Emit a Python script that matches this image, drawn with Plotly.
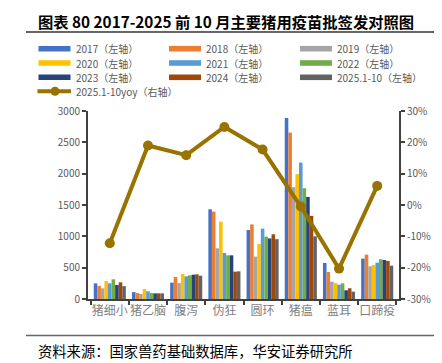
import plotly.graph_objects as go

categories = ["猪细小", "猪乙脑", "腹泻", "伪狂", "圆环", "猪瘟", "蓝耳", "口蹄疫"]
series_names = ["2017（左轴）", "2018（左轴）", "2019（左轴）", "2020（左轴）", "2021（左轴）",
                "2022（左轴）", "2023（左轴）", "2024（左轴）", "2025.1-10（左轴）"]
v2017 = [250, 110, 261, 1431, 1100, 2890, 575, 644]
v2018 = [207, 95, 351, 1394, 1190, 2656, 431, 708]
v2019 = [170, 80, 255, 809, 676, 1784, 277, 522]
v2020 = [287, 160, 399, 1234, 876, 1992, 256, 543]
v2021 = [250, 122, 362, 734, 1123, 2177, 229, 580]
v2022 = [314, 95, 378, 697, 995, 1768, 250, 634]
v2023 = [223, 90, 388, 697, 966, 1629, 139, 623]
v2024 = [266, 90, 394, 436, 1033, 1326, 171, 607]
v2025 = [205, 90, 372, 441, 955, 1000, 117, 532]
yoy_name = "2025.1-10yoy（右轴）"
yoy = [-12.2, 19.0, 15.9, 24.9, 17.7, -0.5, -20.3, 6.1]
left_ticks = [0, 500, 1000, 1500, 2000, 2500, 3000]
right_ticks = [-30, -20, -10, 0, 10, 20, 30]
right_tick_labels = ["-30%", "-20%", "-10%", "0%", "10%", "20%", "30%"]

series_values = [v2017, v2018, v2019, v2020, v2021, v2022, v2023, v2024, v2025]
colors = ["#4472C4", "#ED7D31", "#A5A5A5", "#FFC000", "#5B9BD5",
          "#70AD47", "#264478", "#9E480E", "#636363"]
line_color = "#997300"

W, H = 442, 363
L, R, T, B = 80, 391, 103, 291

fig = go.Figure()
for name, vals, c in zip(series_names, series_values, colors):
    fig.add_trace(go.Bar(x=categories, y=vals, name=name, marker_color=c,
                         marker_line_width=0, showlegend=False))
fig.add_trace(go.Scatter(x=categories, y=yoy, name=yoy_name, yaxis="y2", mode="lines+markers",
                         line=dict(color=line_color, width=4),
                         marker=dict(color=line_color, size=10), showlegend=False))

def px(x):
    return (x - L) / (R - L)

def py(y):
    return (B - y) / (B - T)

shapes = []
annotations = []
# title + rules
annotations.append(dict(text="<b>图表 80 2017-2025 前 10 月主要猪用疫苗批签发对照图</b>",
                        x=px(28), y=py(13), xref="paper", yref="paper", xanchor="left",
                        yanchor="middle", showarrow=False,
                        font=dict(size=15.3, color="#000000", family="Noto Sans CJK SC")))
shapes.append(dict(type="line", xref="paper", yref="paper", x0=px(18), x1=px(442),
                   y0=py(24), y1=py(24), line=dict(color="#333333", width=1.5)))
shapes.append(dict(type="line", xref="paper", yref="paper", x0=px(18), x1=px(442),
                   y0=py(327.5), y1=py(327.5), line=dict(color="#666666", width=1.5)))
annotations.append(dict(text="资料来源：国家兽药基础数据库，华安证券研究所",
                        x=px(28), y=py(342), xref="paper", yref="paper", xanchor="left",
                        yanchor="middle", showarrow=False,
                        font=dict(size=14.3, color="#000000", family="Noto Sans CJK SC")))
# custom legend
col_x = [30.5, 161, 292]
row_y = [40.7, 55, 69.3, 83.3]
for i, (name, c) in enumerate(zip(series_names, colors)):
    r, k = divmod(i, 3)
    x0 = col_x[k]
    yy = row_y[r]
    shapes.append(dict(type="rect", xref="paper", yref="paper", x0=px(x0), x1=px(x0 + 32),
                       y0=py(yy + 2.8), y1=py(yy - 2.8), fillcolor=c, line=dict(width=0)))
    annotations.append(dict(text=name, x=px(x0 + 35), y=py(yy), xref="paper", yref="paper",
                            xanchor="left", yanchor="middle", showarrow=False,
                            font=dict(size=10, color="#595959", family="Noto Sans CJK SC")))
yy = row_y[3]
shapes.append(dict(type="line", xref="paper", yref="paper", x0=px(29.5), x1=px(63),
                   y0=py(yy), y1=py(yy), line=dict(color=line_color, width=4)))
shapes.append(dict(type="circle", xref="paper", yref="paper", x0=px(42.5), x1=px(51.5),
                   y0=py(yy + 4.5), y1=py(yy - 4.5), fillcolor=line_color, line=dict(width=0)))
annotations.append(dict(text=yoy_name, x=px(65.5), y=py(yy), xref="paper", yref="paper",
                        xanchor="left", yanchor="middle", showarrow=False,
                        font=dict(size=10, color="#595959", family="Noto Sans CJK SC")))

axis_font = dict(size=10, color="#595959", family="Noto Sans CJK SC")
fig.update_layout(
    width=W, height=H,
    margin=dict(l=L, r=W - R, t=T, b=H - B),
    paper_bgcolor="white", plot_bgcolor="white",
    barmode="group", bargap=0.16, bargroupgap=0,
    shapes=shapes, annotations=annotations,
    xaxis=dict(type="category", tickson="boundaries", ticks="outside", ticklen=4,
               tickwidth=1.5, tickcolor="#404040", showline=True, linecolor="#404040",
               linewidth=2, tickangle=0,
               tickfont=dict(size=12, color="#7f7f7f", family="Noto Sans CJK SC"),
               showgrid=False),
    yaxis=dict(range=[0, 3000], tickvals=left_ticks, ticks="outside", ticklen=4,
               tickwidth=1.5, tickcolor="#404040", showline=True, linecolor="#404040",
               linewidth=2, showgrid=False, zeroline=False, tickfont=axis_font),
    yaxis2=dict(range=[-30, 30], tickvals=right_ticks, ticktext=right_tick_labels,
                overlaying="y", side="right", ticks="outside", ticklen=4, tickwidth=1.5,
                tickcolor="#404040", showline=True, linecolor="#404040", linewidth=2,
                showgrid=False, zeroline=False, tickfont=axis_font),
)
fig.write_html("out.html")
